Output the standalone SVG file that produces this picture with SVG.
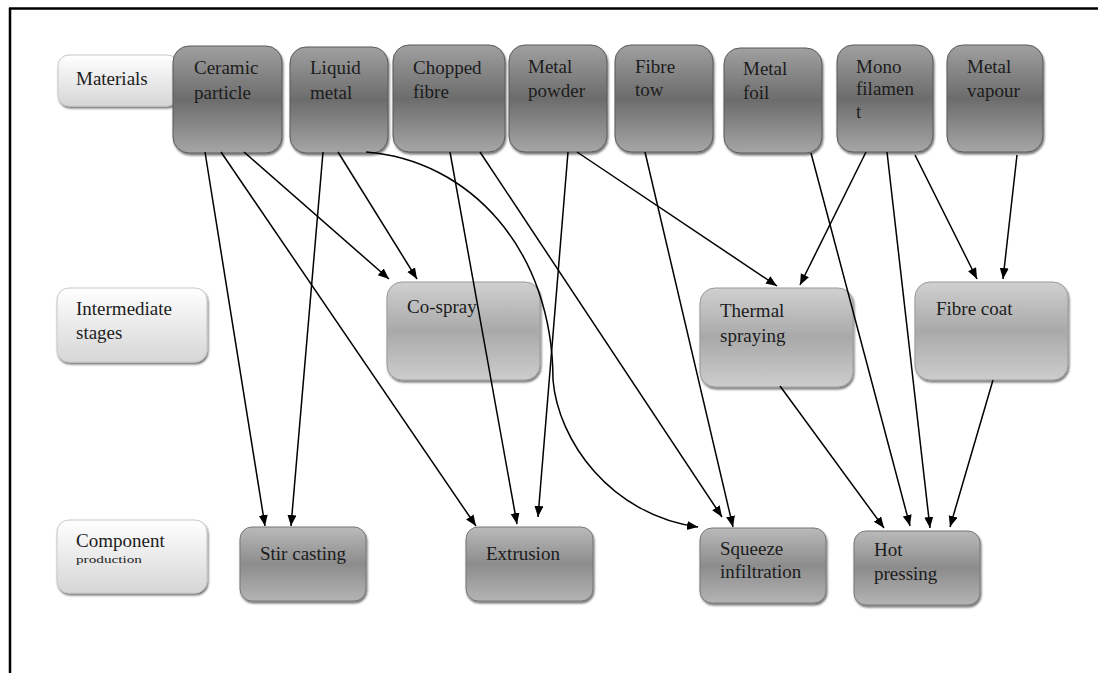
<svg xmlns="http://www.w3.org/2000/svg" width="1098" height="673" viewBox="0 0 1098 673">
  <style>
    text { font-family: "Liberation Serif", "Times New Roman", serif; font-size: 19px; fill: #1c1c1c; }
    .lbl { stroke: #c8c8c8; stroke-width: 1; fill: url(#gLabel); filter: url(#shadow); }
    .mat { stroke: #5a5a5a; stroke-width: 1; fill: url(#gDark); filter: url(#shadow); }
    .mid { stroke: #9a9a9a; stroke-width: 1; fill: url(#gLight); filter: url(#shadow); }
    .out { stroke: #777; stroke-width: 1; fill: url(#gMid); filter: url(#shadow); }
    .edge { fill: none; stroke: #000; stroke-width: 1.5; marker-end: url(#arrow); }
    .frame { stroke: #000; stroke-width: 2.5; }
  </style>
  <defs>
    <linearGradient id="gLabel" x1="0" y1="0" x2="0" y2="1">
      <stop offset="0" stop-color="#ffffff"/>
      <stop offset="1" stop-color="#d6d6d6"/>
    </linearGradient>
    <linearGradient id="gDark" x1="0" y1="0" x2="0" y2="1">
      <stop offset="0" stop-color="#a0a0a0"/>
      <stop offset="0.5" stop-color="#6c6c6c"/>
      <stop offset="1" stop-color="#a6a6a6"/>
    </linearGradient>
    <linearGradient id="gLight" x1="0" y1="0" x2="0" y2="1">
      <stop offset="0" stop-color="#d0d0d0"/>
      <stop offset="0.5" stop-color="#a9a9a9"/>
      <stop offset="1" stop-color="#cdcdcd"/>
    </linearGradient>
    <linearGradient id="gMid" x1="0" y1="0" x2="0" y2="1">
      <stop offset="0" stop-color="#bababa"/>
      <stop offset="0.5" stop-color="#8c8c8c"/>
      <stop offset="1" stop-color="#b4b4b4"/>
    </linearGradient>
    <filter id="shadow" x="-10%" y="-10%" width="130%" height="130%">
      <feDropShadow dx="1" dy="2" stdDeviation="1.2" flood-color="#000" flood-opacity="0.55"/>
    </filter>
    <marker id="arrow" markerUnits="userSpaceOnUse" markerWidth="12" markerHeight="10" refX="11" refY="4.5" orient="auto">
      <path d="M0,0 L11,4.5 L0,9 z" fill="#000"/>
    </marker>
  </defs>

  <!-- page frame -->
  <line class="frame" x1="9" y1="8.5" x2="1098" y2="8.5"/>
  <line class="frame" x1="10" y1="8" x2="10" y2="673"/>

  <!-- row labels -->
  <g id="label-materials">
    <rect class="lbl" x="58" y="55" width="120" height="51" rx="11"/>
    <text x="76" y="85">Materials</text>
  </g>
  <g id="label-intermediate">
    <rect class="lbl" x="57" y="288" width="150" height="74" rx="12"/>
    <text x="76" y="315">Intermediate</text>
    <text x="76" y="339">stages</text>
  </g>
  <g id="label-component">
    <rect class="lbl" x="57" y="520" width="150" height="73" rx="12"/>
    <text x="76" y="547">Component</text>
    <text x="76" y="563" style="font-size:10.5px" textLength="66" lengthAdjust="spacingAndGlyphs">production</text>
  </g>

  <!-- materials -->
  <g id="ceramic-particle">
    <rect class="mat" x="173" y="46" width="109" height="107" rx="16"/>
    <text x="194" y="74">Ceramic</text>
    <text x="194" y="99">particle</text>
  </g>
  <g id="liquid-metal">
    <rect class="mat" x="290" y="47" width="98" height="106" rx="16"/>
    <text x="310" y="74">Liquid</text>
    <text x="310" y="99">metal</text>
  </g>
  <g id="chopped-fibre">
    <rect class="mat" x="393" y="45" width="112" height="107" rx="16"/>
    <text x="413" y="74">Chopped</text>
    <text x="413" y="98">fibre</text>
  </g>
  <g id="metal-powder">
    <rect class="mat" x="509" y="45" width="98" height="107" rx="16"/>
    <text x="528" y="73">Metal</text>
    <text x="528" y="97">powder</text>
  </g>
  <g id="fibre-tow">
    <rect class="mat" x="615" y="45" width="98" height="107" rx="16"/>
    <text x="635" y="73">Fibre</text>
    <text x="635" y="96">tow</text>
  </g>
  <g id="metal-foil">
    <rect class="mat" x="724" y="48" width="98" height="105" rx="16"/>
    <text x="743" y="75">Metal</text>
    <text x="743" y="99">foil</text>
  </g>
  <g id="mono-filament">
    <rect class="mat" x="837" y="45" width="96" height="107" rx="16"/>
    <text x="856" y="73">Mono</text>
    <text x="856" y="95">filamen</text>
    <text x="856" y="118">t</text>
  </g>
  <g id="metal-vapour">
    <rect class="mat" x="947" y="45" width="96" height="107" rx="16"/>
    <text x="967" y="73">Metal</text>
    <text x="967" y="97">vapour</text>
  </g>

  <!-- intermediate stages -->
  <g id="co-spray">
    <rect class="mid" x="387" y="282" width="153" height="98" rx="15"/>
    <text x="407" y="313">Co-spray</text>
  </g>
  <g id="thermal-spraying">
    <rect class="mid" x="700" y="288" width="153" height="99" rx="15"/>
    <text x="720" y="317">Thermal</text>
    <text x="720" y="342">spraying</text>
  </g>
  <g id="fibre-coat">
    <rect class="mid" x="915" y="282" width="153" height="98" rx="15"/>
    <text x="936" y="315">Fibre coat</text>
  </g>

  <!-- component production -->
  <g id="stir-casting">
    <rect class="out" x="240" y="527" width="126" height="74" rx="12"/>
    <text x="260" y="560">Stir casting</text>
  </g>
  <g id="extrusion">
    <rect class="out" x="466" y="527" width="127" height="74" rx="12"/>
    <text x="486" y="560">Extrusion</text>
  </g>
  <g id="squeeze-infiltration">
    <rect class="out" x="700" y="528" width="126" height="75" rx="12"/>
    <text x="720" y="555">Squeeze</text>
    <text x="720" y="578">infiltration</text>
  </g>
  <g id="hot-pressing">
    <rect class="out" x="854" y="531" width="126" height="74" rx="12"/>
    <text x="874" y="556">Hot</text>
    <text x="874" y="580">pressing</text>
  </g>

  <!-- connectors -->
  <g id="connectors">
    <line class="edge" x1="205" y1="152" x2="265" y2="526"/>
    <line class="edge" x1="221" y1="152" x2="476" y2="526"/>
    <line class="edge" x1="244" y1="152" x2="389" y2="279"/>
    <line class="edge" x1="323" y1="152" x2="291" y2="526"/>
    <line class="edge" x1="338" y1="152" x2="417" y2="279"/>
    <path class="edge" d="M366,152 C470,160 553,250 553,380 C558,440 610,515 698,527"/>
    <line class="edge" x1="450" y1="152" x2="517" y2="524"/>
    <line class="edge" x1="480" y1="152" x2="722" y2="517"/>
    <line class="edge" x1="568" y1="152" x2="538" y2="517"/>
    <line class="edge" x1="577" y1="152" x2="777" y2="286"/>
    <line class="edge" x1="645" y1="152" x2="733" y2="527"/>
    <line class="edge" x1="811" y1="153" x2="910" y2="526"/>
    <line class="edge" x1="866" y1="152" x2="800" y2="285"/>
    <line class="edge" x1="887" y1="152" x2="930" y2="528"/>
    <line class="edge" x1="915" y1="155" x2="977" y2="279"/>
    <line class="edge" x1="1017" y1="155" x2="1003" y2="279"/>
    <line class="edge" x1="780" y1="386" x2="884" y2="528"/>
    <line class="edge" x1="993" y1="380" x2="950" y2="527"/>
  </g>
</svg>
